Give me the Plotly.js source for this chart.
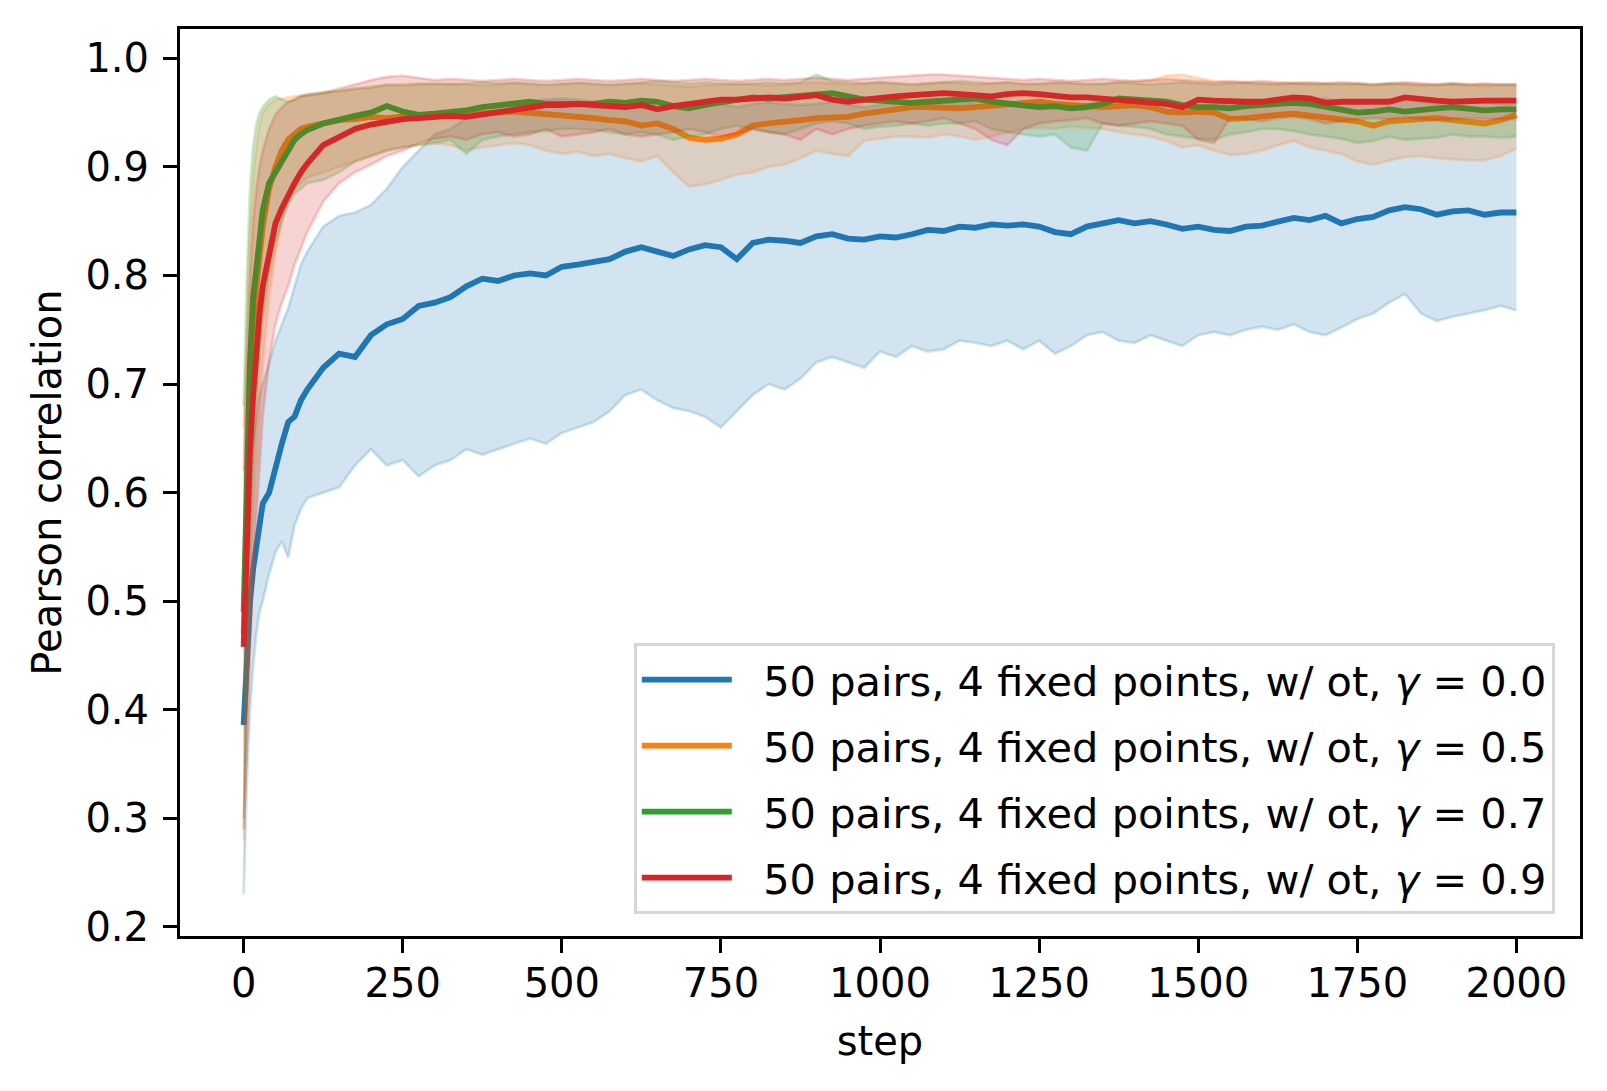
<!DOCTYPE html>
<html>
<head>
<meta charset="utf-8">
<script src="https://cdn.plot.ly/plotly-3.0.1.min.js"></script>
<style>
  html, body { margin:0; padding:0; background:#ffffff; }
  #myDiv { width:1607px; height:1091px; }
</style>
</head>
<body>
<div id="myDiv"></div>
<script>
// training step grid
var steps = [0,5,10,15,20,25,30,40,50,60,70,80,90,
  100,125,150,175,200,225,250,275,300,325,350,375,400,425,450,475,
  500,525,550,575,600,625,650,675,700,725,750,775,800,825,850,875,
  900,925,950,975,1000,1025,1050,1075,1100,1125,1150,1175,1200,1225,1250,1275,
  1300,1325,1350,1375,1400,1425,1450,1475,1500,1525,1550,1575,1600,1625,1650,1675,
  1700,1725,1750,1775,1800,1825,1850,1875,1900,1925,1950,1975,2000];

// gamma = 0.0
var mean_g00 = [0.386,0.45,0.50,0.53,0.55,0.575,0.59,0.60,0.625,0.645,0.665,0.67,0.685,
  0.695,0.715,0.728,0.725,0.745,0.755,0.76,0.772,0.775,0.78,0.79,0.797,0.795,0.80,0.802,0.80,
  0.808,0.81,0.812,0.815,0.822,0.826,0.822,0.818,0.824,0.828,0.826,0.815,0.83,0.833,0.832,0.83,
  0.836,0.838,0.834,0.833,0.836,0.835,0.838,0.842,0.841,0.845,0.844,0.847,0.846,0.847,0.845,0.84,
  0.838,0.845,0.848,0.851,0.848,0.85,0.847,0.843,0.845,0.842,0.841,0.845,0.846,0.85,0.853,0.851,
  0.855,0.848,0.852,0.854,0.86,0.863,0.861,0.856,0.859,0.86,0.856,0.858,0.858];
var lo_g00 = [0.23,0.33,0.40,0.44,0.47,0.49,0.50,0.525,0.545,0.555,0.54,0.57,0.585,
  0.595,0.60,0.605,0.625,0.64,0.625,0.63,0.615,0.625,0.63,0.64,0.635,0.64,0.645,0.65,0.645,
  0.655,0.66,0.665,0.675,0.69,0.695,0.685,0.678,0.675,0.67,0.66,0.675,0.69,0.70,0.695,0.705,
  0.72,0.725,0.72,0.715,0.73,0.725,0.735,0.73,0.732,0.74,0.738,0.735,0.74,0.732,0.74,0.728,
  0.735,0.745,0.748,0.74,0.738,0.745,0.74,0.735,0.745,0.748,0.745,0.75,0.753,0.75,0.755,0.748,
  0.745,0.752,0.76,0.765,0.775,0.783,0.765,0.758,0.762,0.765,0.768,0.772,0.768];
var hi_g00 = [0.54,0.58,0.62,0.65,0.67,0.69,0.70,0.72,0.74,0.755,0.77,0.79,0.81,
  0.822,0.845,0.855,0.858,0.865,0.88,0.90,0.915,0.93,0.935,0.945,0.95,0.955,0.958,0.96,0.962,
  0.963,0.962,0.96,0.958,0.96,0.962,0.96,0.955,0.957,0.96,0.958,0.955,0.958,0.96,0.958,0.957,
  0.958,0.96,0.957,0.955,0.957,0.958,0.96,0.962,0.96,0.958,0.96,0.962,0.96,0.958,0.957,0.955,
  0.955,0.958,0.96,0.962,0.96,0.958,0.957,0.956,0.958,0.96,0.957,0.958,0.96,0.962,0.963,0.962,
  0.963,0.96,0.958,0.96,0.962,0.963,0.96,0.958,0.96,0.962,0.96,0.958,0.958];

// gamma = 0.5
var mean_g05 = [0.47,0.58,0.68,0.75,0.79,0.82,0.845,0.88,0.90,0.915,0.925,0.93,0.935,
  0.937,0.94,0.943,0.944,0.946,0.945,0.947,0.948,0.948,0.947,0.949,0.949,0.95,0.951,0.95,0.948,
  0.947,0.946,0.945,0.943,0.942,0.938,0.94,0.935,0.927,0.925,0.926,0.93,0.938,0.94,0.941,0.943,
  0.945,0.945,0.946,0.949,0.951,0.953,0.955,0.955,0.954,0.954,0.955,0.956,0.958,0.959,0.96,0.958,
  0.957,0.956,0.955,0.956,0.957,0.955,0.951,0.95,0.951,0.95,0.944,0.945,0.947,0.948,0.949,0.947,
  0.946,0.944,0.942,0.938,0.942,0.943,0.944,0.945,0.943,0.941,0.94,0.943,0.948];
var lo_g05 = [0.28,0.38,0.48,0.56,0.62,0.67,0.72,0.78,0.82,0.85,0.87,0.88,0.885,
  0.89,0.895,0.90,0.905,0.91,0.915,0.918,0.92,0.922,0.92,0.915,0.918,0.92,0.922,0.92,0.915,
  0.912,0.914,0.91,0.912,0.908,0.905,0.91,0.895,0.882,0.884,0.888,0.893,0.895,0.90,0.902,0.908,
  0.915,0.912,0.91,0.924,0.926,0.928,0.928,0.927,0.93,0.928,0.925,0.928,0.932,0.935,0.936,0.935,
  0.937,0.936,0.935,0.932,0.93,0.928,0.924,0.918,0.92,0.915,0.911,0.912,0.915,0.92,0.924,0.918,
  0.915,0.912,0.905,0.902,0.906,0.909,0.91,0.908,0.907,0.906,0.906,0.91,0.917];
var hi_g05 = [0.66,0.76,0.84,0.89,0.92,0.94,0.95,0.958,0.962,0.963,0.964,0.965,0.966,
  0.966,0.968,0.97,0.972,0.974,0.975,0.976,0.977,0.976,0.977,0.976,0.975,0.976,0.977,0.976,0.975,
  0.976,0.977,0.976,0.975,0.976,0.977,0.976,0.975,0.974,0.975,0.976,0.977,0.976,0.975,0.976,0.977,
  0.978,0.977,0.976,0.977,0.978,0.977,0.976,0.977,0.978,0.977,0.976,0.977,0.978,0.977,0.976,0.977,
  0.978,0.977,0.976,0.978,0.979,0.98,0.984,0.985,0.982,0.979,0.978,0.977,0.976,0.977,0.978,0.977,
  0.976,0.977,0.976,0.975,0.976,0.977,0.976,0.975,0.976,0.975,0.976,0.975,0.975];

// gamma = 0.7
var mean_g07 = [0.49,0.62,0.72,0.78,0.81,0.84,0.86,0.885,0.895,0.905,0.915,0.925,0.93,
  0.934,0.94,0.944,0.947,0.95,0.956,0.951,0.948,0.949,0.95,0.952,0.955,0.957,0.958,0.96,0.958,
  0.958,0.959,0.958,0.96,0.959,0.961,0.96,0.956,0.954,0.957,0.959,0.962,0.964,0.963,0.964,0.965,
  0.966,0.968,0.965,0.962,0.961,0.96,0.959,0.96,0.961,0.962,0.963,0.96,0.958,0.956,0.955,0.956,
  0.954,0.955,0.958,0.963,0.962,0.961,0.96,0.957,0.955,0.955,0.954,0.956,0.957,0.958,0.959,0.958,
  0.955,0.952,0.95,0.951,0.953,0.951,0.953,0.954,0.955,0.953,0.952,0.953,0.953];
var lo_g07 = [0.30,0.42,0.53,0.62,0.68,0.73,0.76,0.80,0.83,0.85,0.865,0.875,0.88,
  0.885,0.888,0.895,0.905,0.91,0.915,0.918,0.92,0.922,0.925,0.912,0.925,0.928,0.93,0.932,0.933,
  0.935,0.935,0.934,0.932,0.93,0.932,0.93,0.925,0.928,0.93,0.935,0.938,0.935,0.932,0.93,0.935,
  0.94,0.942,0.94,0.935,0.937,0.938,0.94,0.938,0.94,0.94,0.942,0.935,0.932,0.93,0.928,0.93,
  0.918,0.915,0.94,0.938,0.937,0.935,0.93,0.928,0.926,0.925,0.93,0.932,0.935,0.935,0.933,0.93,
  0.928,0.926,0.922,0.924,0.928,0.925,0.926,0.927,0.93,0.928,0.928,0.927,0.928];
var hi_g07 = [0.68,0.80,0.88,0.92,0.94,0.95,0.955,0.962,0.965,0.962,0.96,0.962,0.965,
  0.967,0.969,0.97,0.972,0.973,0.976,0.975,0.976,0.977,0.976,0.977,0.978,0.977,0.978,0.977,0.976,
  0.977,0.978,0.977,0.976,0.977,0.978,0.979,0.978,0.977,0.978,0.977,0.976,0.977,0.978,0.977,0.978,
  0.985,0.979,0.978,0.977,0.978,0.977,0.976,0.977,0.978,0.979,0.978,0.977,0.978,0.976,0.977,0.978,
  0.977,0.976,0.977,0.978,0.977,0.976,0.977,0.978,0.977,0.976,0.977,0.978,0.977,0.976,0.977,0.976,
  0.977,0.976,0.977,0.976,0.977,0.976,0.975,0.976,0.977,0.976,0.975,0.976,0.976];

// gamma = 0.9
var mean_g09 = [0.458,0.56,0.64,0.69,0.735,0.765,0.79,0.822,0.848,0.862,0.875,0.885,0.895,
  0.903,0.92,0.928,0.935,0.939,0.942,0.944,0.945,0.946,0.947,0.946,0.948,0.951,0.953,0.955,0.957,
  0.957,0.958,0.957,0.956,0.955,0.957,0.953,0.956,0.958,0.96,0.962,0.962,0.963,0.964,0.963,0.965,
  0.966,0.962,0.96,0.962,0.964,0.965,0.966,0.967,0.968,0.967,0.966,0.965,0.967,0.968,0.967,0.965,
  0.964,0.964,0.963,0.962,0.96,0.959,0.958,0.955,0.962,0.961,0.96,0.96,0.96,0.962,0.964,0.963,
  0.959,0.96,0.96,0.961,0.96,0.964,0.962,0.961,0.96,0.961,0.961,0.961,0.961];
var lo_g09 = [0.29,0.38,0.46,0.53,0.58,0.63,0.67,0.72,0.755,0.775,0.79,0.81,0.825,
  0.84,0.868,0.885,0.895,0.902,0.91,0.915,0.922,0.926,0.928,0.925,0.93,0.932,0.928,0.93,0.935,
  0.928,0.93,0.932,0.935,0.93,0.928,0.93,0.932,0.935,0.932,0.928,0.93,0.935,0.932,0.93,0.925,
  0.935,0.93,0.935,0.938,0.94,0.942,0.94,0.942,0.945,0.94,0.935,0.925,0.92,0.935,0.94,0.942,
  0.943,0.945,0.94,0.938,0.94,0.942,0.94,0.938,0.925,0.922,0.945,0.944,0.942,0.945,0.946,0.944,
  0.94,0.942,0.944,0.945,0.944,0.946,0.944,0.943,0.944,0.945,0.944,0.944,0.944];
var hi_g09 = [0.62,0.72,0.80,0.85,0.88,0.90,0.915,0.935,0.948,0.955,0.96,0.962,0.965,
  0.966,0.968,0.972,0.976,0.98,0.983,0.984,0.982,0.98,0.981,0.98,0.979,0.98,0.981,0.98,0.979,
  0.98,0.981,0.98,0.979,0.98,0.981,0.98,0.979,0.98,0.981,0.98,0.979,0.98,0.981,0.98,0.981,
  0.982,0.981,0.98,0.981,0.982,0.983,0.984,0.985,0.985,0.984,0.983,0.982,0.981,0.98,0.981,0.98,
  0.979,0.98,0.981,0.98,0.979,0.98,0.981,0.98,0.979,0.978,0.979,0.978,0.979,0.978,0.977,0.978,
  0.977,0.978,0.977,0.976,0.977,0.978,0.977,0.976,0.977,0.976,0.977,0.976,0.976];

// non-breaking spaces keep a gap between legend line and text
var labels = ['\u00a0\u00a050 pairs, 4 fixed points, w/ ot, <i>γ</i> = 0.0',
              '\u00a0\u00a050 pairs, 4 fixed points, w/ ot, <i>γ</i> = 0.5',
              '\u00a0\u00a050 pairs, 4 fixed points, w/ ot, <i>γ</i> = 0.7',
              '\u00a0\u00a050 pairs, 4 fixed points, w/ ot, <i>γ</i> = 0.9'];

var series = [
  {mean: mean_g00, lo: lo_g00, hi: hi_g00},
  {mean: mean_g05, lo: lo_g05, hi: hi_g05},
  {mean: mean_g07, lo: lo_g07, hi: hi_g07},
  {mean: mean_g09, lo: lo_g09, hi: hi_g09}
];

var rgb = ['31,119,180', '255,127,14', '44,160,44', '214,39,40'];

var data = [];
for (var i = 0; i < series.length; i++) {
  var s = series[i];
  var c = rgb[i];
  // mean line
  data.push({ x: steps, y: s.mean, type: 'scatter', mode: 'lines',
              name: labels[i], legendgroup: 'g'+i, showlegend: true,
              line: { color: 'rgb('+c+')', width: 5.8 } });
  // band: lower edge then upper edge filled to it
  data.push({ x: steps, y: s.lo, type: 'scatter', mode: 'lines',
              legendgroup: 'g'+i, showlegend: false,
              line: { color: 'rgba('+c+',0.2)', width: 2.8 } });
  data.push({ x: steps, y: s.hi, type: 'scatter', mode: 'lines',
              legendgroup: 'g'+i, showlegend: false,
              fill: 'tonexty', fillcolor: 'rgba('+c+',0.2)',
              line: { color: 'rgba('+c+',0.2)', width: 2.8 } });
}

var fnt = { family: 'DejaVu Sans, sans-serif', size: 40, color: '#000000' };

var layout = {
  width: 1607,
  height: 1091,
  paper_bgcolor: '#ffffff',
  plot_bgcolor: '#ffffff',
  font: fnt,
  margin: { l: 180, r: 27, t: 29, b: 155 },
  showlegend: true,
  legend: {
    x: 0.982, y: 0.024, xanchor: 'right', yanchor: 'bottom',
    bgcolor: 'rgba(255,255,255,0.8)',
    bordercolor: '#d6d6d6', borderwidth: 3,
    font: { family: 'DejaVu Sans, sans-serif', size: 41.5, color: '#000000' },
    itemwidth: 90,
    tracegroupgap: 9,
    traceorder: 'grouped'
  },
  xaxis: {
    range: [-100, 2100],
    tickmode: 'array',
    tickvals: [0,250,500,750,1000,1250,1500,1750,2000],
    ticks: 'outside', ticklen: 14, tickwidth: 3, tickcolor: '#000000',
    showline: true, linecolor: '#000000', linewidth: 3, mirror: true,
    showgrid: false, zeroline: false,
    ticklabelstandoff: -4,
    tickfont: fnt,
    title: { text: 'step', font: fnt, standoff: 22 }
  },
  yaxis: {
    range: [0.1917, 1.027],
    tickmode: 'array',
    tickvals: [0.2,0.3,0.4,0.5,0.6,0.7,0.8,0.9,1.0],
    ticktext: ['0.2','0.3','0.4','0.5','0.6','0.7','0.8','0.9','1.0'],
    ticks: 'outside', ticklen: 14, tickwidth: 3, tickcolor: '#000000',
    showline: true, linecolor: '#000000', linewidth: 3, mirror: true,
    showgrid: false, zeroline: false,
    ticklabelstandoff: 6,
    tickfont: fnt,
    title: { text: 'Pearson correlation', font: fnt, standoff: 12 }
  }
};

var config = { staticPlot: true, displayModeBar: false };

Plotly.newPlot('myDiv', data, layout, config);
</script>
</body>
</html>
